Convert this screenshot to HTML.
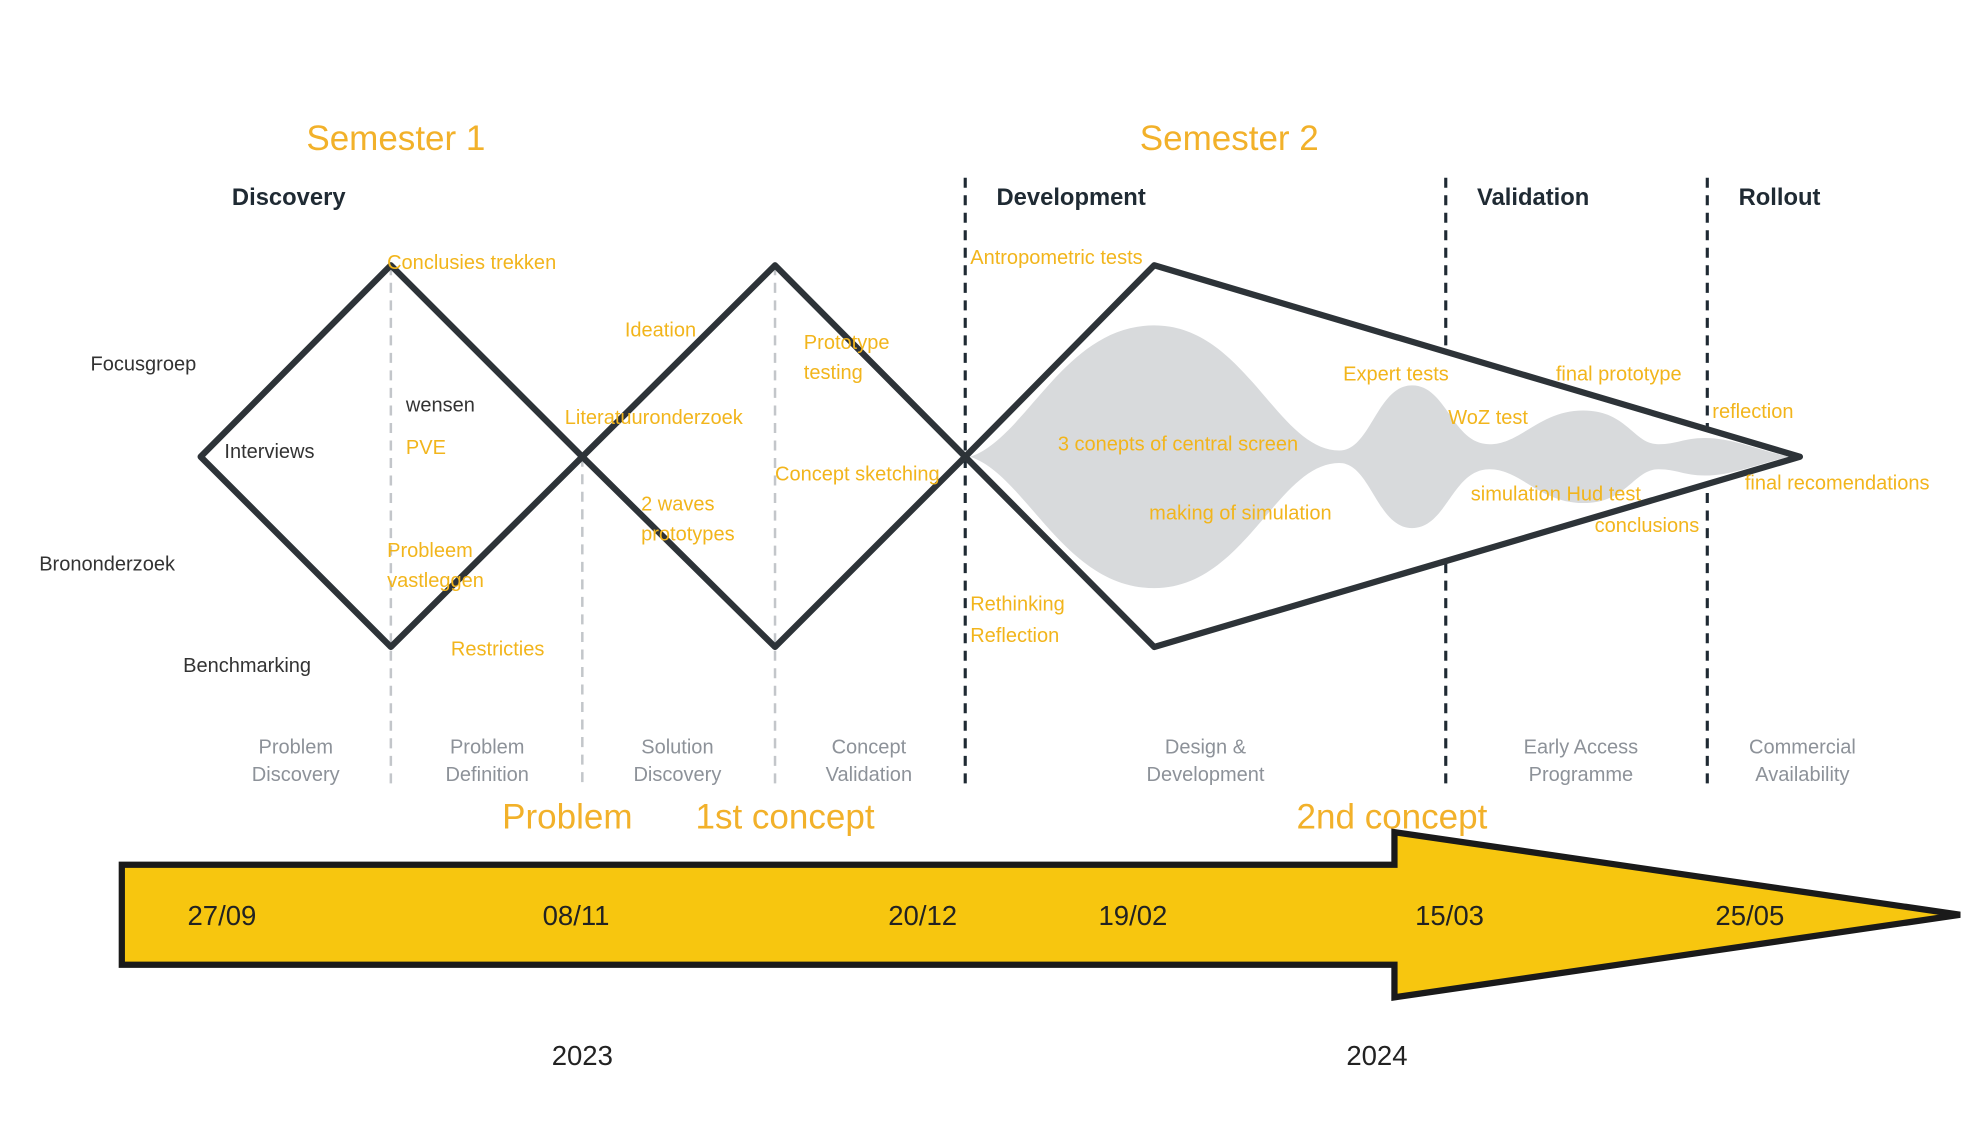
<!DOCTYPE html>
<html><head><meta charset="utf-8"><style>
html,body{margin:0;padding:0;background:#fff;}
svg{display:block;}
text{font-family:"Liberation Sans",sans-serif;}
.or{fill:#f2b51c;font-size:16px;}
.ph{fill:#1f2a33;font-size:19px;font-weight:bold;}
.lb{fill:#333;font-size:16px;}
.gr{fill:#8d9299;font-size:16px;text-anchor:middle;}
.big{fill:#f2b12a;font-size:28px;}
</style></head><body>
<svg width="1963" height="1145" viewBox="0 0 1568 915">
<g stroke="#c3c6ca" stroke-width="2" stroke-dasharray="8,6">
<line x1="312" y1="212" x2="312" y2="630"/><line x1="465" y1="365" x2="465" y2="630"/><line x1="619" y1="212" x2="619" y2="630"/>
</g>
<g stroke="#1f2a33" stroke-width="2.5" stroke-dasharray="8,6">
<line x1="771" y1="142" x2="771" y2="630"/><line x1="1155" y1="142" x2="1155" y2="630"/><line x1="1364" y1="142" x2="1364" y2="630"/>
</g>
<polygon points="771,365 922,212 1438,365 922,517" fill="#fff"/>
<path fill="#d8dadc" d="M775,365 C820,350 850,260 922,260 C995,260 1020,360 1070,360 C1095,360 1100,308 1128,308 C1156,308 1160,355 1190,355 C1215,355 1230,328 1265,328 C1300,328 1305,355 1325,355 C1340,355 1345,350 1362,350 C1385,350 1405,360 1430,365 C1405,370 1385,380 1362,380 C1345,380 1340,375 1325,375 C1305,375 1300,402 1265,402 C1230,402 1215,375 1190,375 C1160,375 1156,422 1128,422 C1100,422 1095,370 1070,370 C1020,370 995,470 922,470 C850,470 820,380 775,365 Z"/>
<g fill="none" stroke="#2d3338" stroke-width="5" stroke-linejoin="round">
<polygon points="160,365 312,212 465,365 312,517"/>
<polygon points="465,365 619,212 771,365 619,517"/>
<polygon points="771,365 922,212 1438,365 922,517"/>
</g>
<text class="big" x="316" y="120" text-anchor="middle">Semester 1</text>
<text class="big" x="982" y="120" text-anchor="middle">Semester 2</text>
<text class="ph" x="185" y="164">Discovery</text>
<text class="ph" x="796" y="164">Development</text>
<text class="ph" x="1180" y="164">Validation</text>
<text class="ph" x="1389" y="164">Rollout</text>
<g>
<text class="lb" x="72" y="296">Focusgroep</text>
<text class="lb" x="179" y="366">Interviews</text>
<text class="lb" x="31" y="456">Brononderzoek</text>
<text class="lb" x="146" y="537">Benchmarking</text>
<text class="lb" x="324" y="329">wensen</text>
</g>
<g class="or">
<text class="or" x="309" y="215">Conclusies trekken</text>
<text class="or" x="324" y="363">PVE</text>
<text class="or" x="309" y="445">Probleem</text>
<text class="or" x="309" y="469">vastleggen</text>
<text class="or" x="360" y="524">Restricties</text>
<text class="or" x="499" y="269">Ideation</text>
<text class="or" x="451" y="339">Literatuuronderzoek</text>
<text class="or" x="512" y="408">2 waves</text>
<text class="or" x="512" y="432">prototypes</text>
<text class="or" x="642" y="279">Prototype</text>
<text class="or" x="642" y="303">testing</text>
<text class="or" x="619" y="384">Concept sketching</text>
<text class="or" x="775" y="211">Antropometric tests</text>
<text class="or" x="775" y="488">Rethinking</text>
<text class="or" x="775" y="513">Reflection</text>
<text class="or" x="845" y="360">3 conepts of central screen</text>
<text class="or" x="918" y="415">making of simulation</text>
<text class="or" x="1073" y="304">Expert tests</text>
<text class="or" x="1157" y="339">WoZ test</text>
<text class="or" x="1175" y="400">simulation Hud test</text>
<text class="or" x="1274" y="425">conclusions</text>
<text class="or" x="1243" y="304">final prototype</text>
<text class="or" x="1368" y="334">reflection</text>
<text class="or" x="1394" y="391">final recomendations</text>
</g>
<g>
<text class="gr" x="236" y="602">Problem</text><text class="gr" x="236" y="624">Discovery</text>
<text class="gr" x="389" y="602">Problem</text><text class="gr" x="389" y="624">Definition</text>
<text class="gr" x="541" y="602">Solution</text><text class="gr" x="541" y="624">Discovery</text>
<text class="gr" x="694" y="602">Concept</text><text class="gr" x="694" y="624">Validation</text>
<text class="gr" x="963" y="602">Design &amp;</text><text class="gr" x="963" y="624">Development</text>
<text class="gr" x="1263" y="602">Early Access</text><text class="gr" x="1263" y="624">Programme</text>
<text class="gr" x="1440" y="602">Commercial</text><text class="gr" x="1440" y="624">Availability</text>
</g>
<text class="big" x="453" y="662" text-anchor="middle">Problem</text>
<text class="big" x="627" y="662" text-anchor="middle">1st concept</text>
<text class="big" x="1112" y="662" text-anchor="middle">2nd concept</text>
<polygon points="97,691 1114,691 1114,665 1566,731 1114,797 1114,771 97,771" fill="#f7c60f" stroke="#1a1a1a" stroke-width="5" stroke-linejoin="miter"/>
<g id="dates"></g>
<text x="465" y="851" text-anchor="middle" font-size="22" fill="#222">2023</text>
<text x="1100" y="851" text-anchor="middle" font-size="22" fill="#222">2024</text>
</svg>
<script>
const dateLabels = ["27/09","08/11","20/12","19/02","15/03","25/05"];
const dateX = [177,460,737,905,1158,1398];
const g = document.getElementById('dates');
dateLabels.forEach((d,i)=>{
  const t = document.createElementNS('http://www.w3.org/2000/svg','text');
  t.setAttribute('x', dateX[i]);
  t.setAttribute('y', 739);
  t.setAttribute('text-anchor','middle');
  t.setAttribute('font-size','22');
  t.setAttribute('fill','#222');
  
  
  t.textContent = d;
  g.appendChild(t);
});
</script>
</body></html>
